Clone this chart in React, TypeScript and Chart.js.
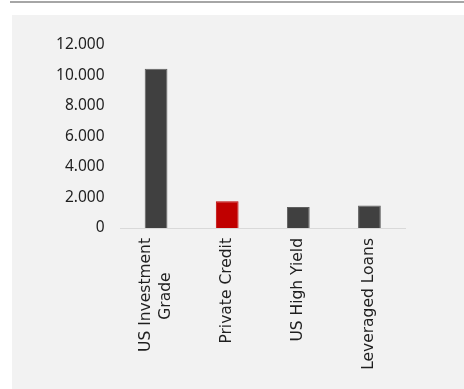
import React, { useEffect, useRef } from "react";
import { Chart, registerables } from "chart.js";

Chart.register(...registerables);

const categories: (string | string[])[] = [["US Investment", "Grade"], "Private Credit", "US High Yield", "Leveraged Loans"];
const values = [10450, 1750, 1380, 1470];
const barColors = ["#404040", "#c00000", "#404040", "#404040"];
const borderColors = ["#5f5f5f", "#c00000", "#5f5f5f", "#5f5f5f"];
const yTicks = [0, 2000, 4000, 6000, 8000, 10000, 12000];

const LABEL_FONT = "15.5px 'DejaVu Sans'";
const LABEL_LH = 1.3;
const LABEL_SIZE = 15.5;

function fmt(v: number): string {
  return String(v).replace(/\B(?=(\d{3})+(?!\d))/g, ".");
}

function centerLines(lines: string[]): string[] {
  const c = document.createElement("canvas").getContext("2d")!;
  c.font = LABEL_FONT;
  const widths = lines.map((l) => c.measureText(l).width);
  const max = Math.max(...widths);
  const sp = c.measureText(" ").width;
  return lines.map((l, i) => l + " ".repeat(Math.round((max - widths[i]) / 2 / sp)));
}

// Center multi-line rotated labels on their tick (Chart.js puts the first line on the tick).
const centerMultiLine = {
  id: "centerMultiLine",
  beforeDraw(chart: any) {
    const s = chart.scales.x;
    const items = s.getLabelItems(chart.chartArea);
    const lh = LABEL_SIZE * LABEL_LH;
    items.forEach((it: any) => {
      if (Array.isArray(it.label) && it.label.length > 1 && !it._shifted) {
        it.options.translation[0] -= ((it.label.length - 1) * lh) / 2;
        it._shifted = true;
      }
    });
  },
};

export default function App() {
  const ref = useRef<HTMLCanvasElement>(null);
  useEffect(() => {
    const chart = new Chart(ref.current!, {
      type: "bar",
      data: {
        labels: categories,
        datasets: [
          {
            data: values,
            backgroundColor: barColors,
            borderColor: borderColors,
            borderWidth: 1,
            categoryPercentage: 1,
            barPercentage: 0.32,
          },
        ],
      },
      plugins: [centerMultiLine],
      options: {
        animation: false,
        responsive: false,
        devicePixelRatio: 1,
        layout: { padding: { left: 12, top: 45, right: 59, bottom: 0 } },
        plugins: { legend: { display: false }, tooltip: { enabled: false } },
        scales: {
          x: {
            grid: { display: false, drawTicks: false },
            border: { display: true, color: "#d9d9d9", width: 1 },
            afterFit: (s: any) => {
              s.height = 161;
            },
            ticks: {
              minRotation: 90,
              maxRotation: 90,
              padding: 10,
              color: "#1f1f1f",
              font: { family: "'DejaVu Sans'", size: LABEL_SIZE, lineHeight: LABEL_LH },
              callback: function (this: any, _v: any, i: number) {
                const l = categories[i];
                return Array.isArray(l) ? centerLines(l) : l;
              },
            },
          },
          y: {
            min: 0,
            max: 12000,
            afterFit: (s: any) => {
              s.width = 108.5;
            },
            afterBuildTicks: (s: any) => {
              s.ticks = yTicks.map((v) => ({ value: v }));
            },
            grid: { display: false, drawTicks: false },
            border: { display: false },
            ticks: {
              padding: 16,
              color: "#1f1f1f",
              font: { family: "'Noto Sans'", size: 15.5 },
              callback: (v: any) => fmt(Number(v)),
            },
          },
        },
      },
    });
    return () => chart.destroy();
  }, []);

  return (
    <div style={{ position: "fixed", left: 0, top: 0, width: 464, height: 389, background: "#fff", overflow: "hidden" }}>
      <div style={{ position: "absolute", left: 10, top: 1, right: 0, height: 2, background: "#a6a6a6" }} />
      <div style={{ position: "absolute", left: 12, top: 15, right: 0, bottom: 0, background: "#f2f2f2" }} />
      <canvas ref={ref} width={464} height={389} style={{ position: "absolute", left: 0, top: 0 }} />
    </div>
  );
}
